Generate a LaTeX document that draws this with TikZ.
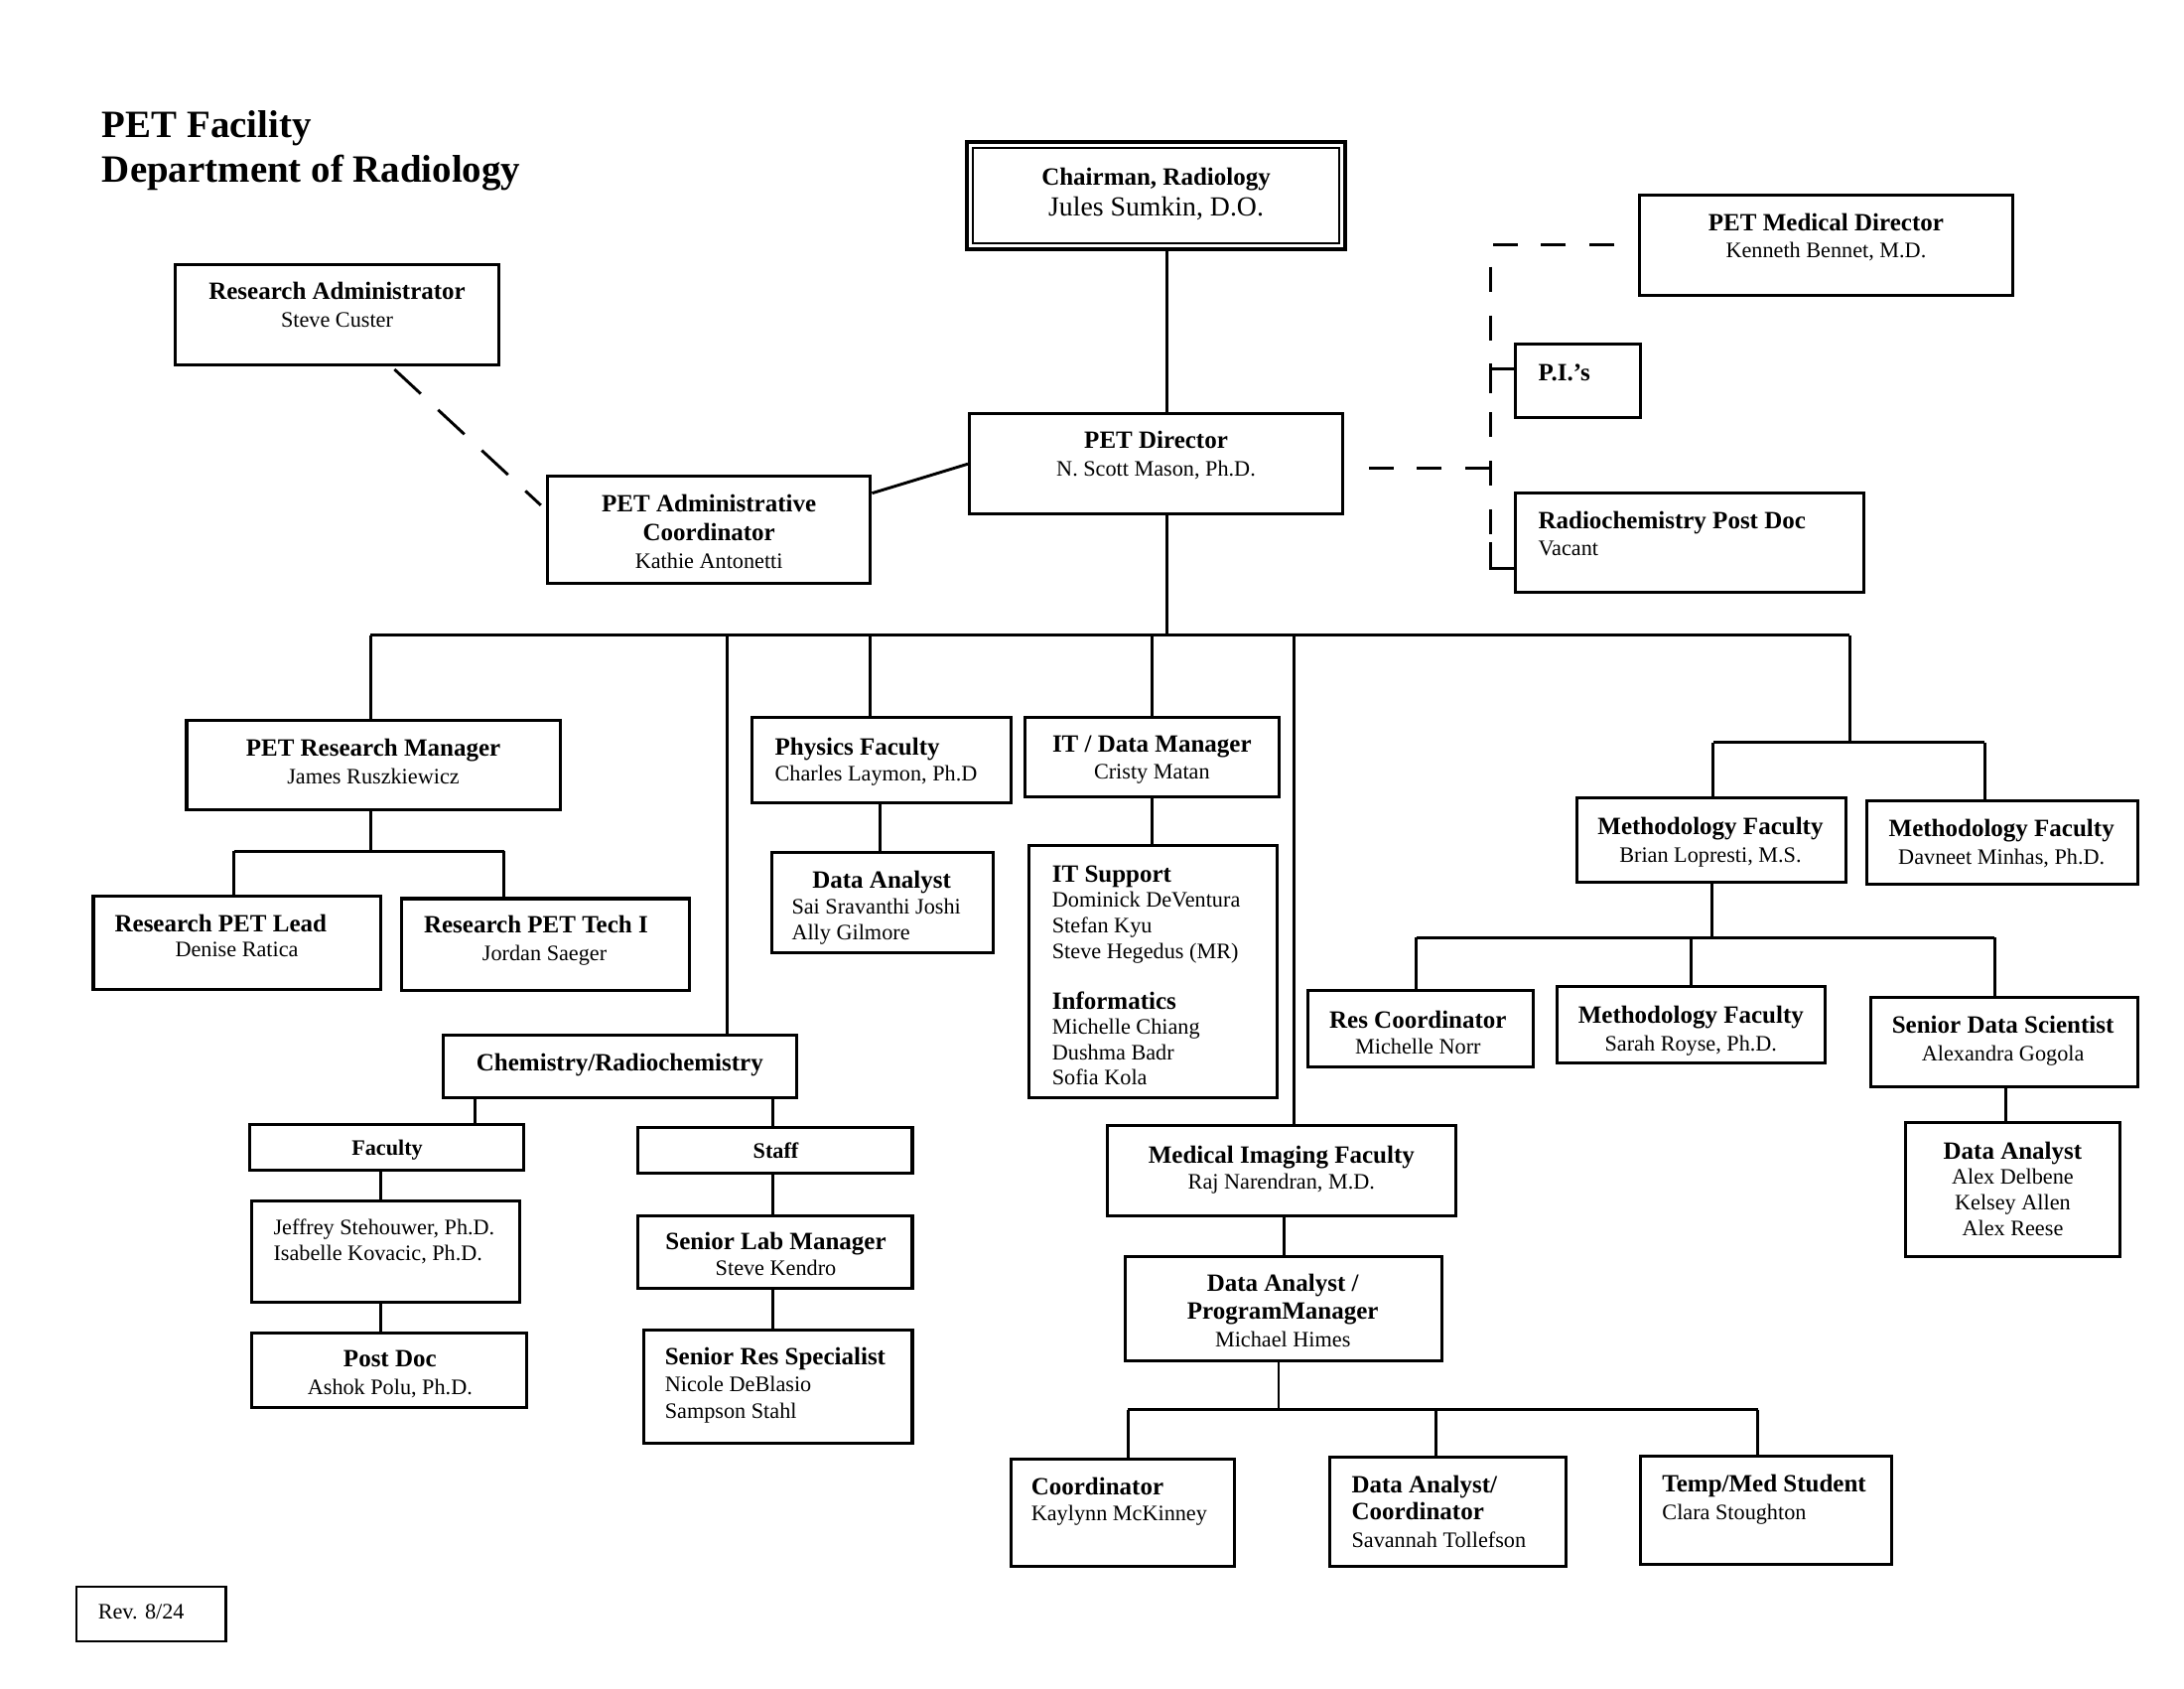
\documentclass[tikz,border=0pt]{standalone}
\usepackage{fontspec}
\setmainfont{Liberation Serif}
\usetikzlibrary{fit}
\newcommand\hd[1]{{\fontsize{9}{9.8}\selectfont\bfseries #1}}
\begin{document}
\begin{tikzpicture}[x=0.50510pt, y=-0.50510pt,
  box/.style={draw, line width=1.1pt, inner sep=0pt},
  con/.style={line width=1.05pt},
  dsh/.style={line width=1.05pt, dash pattern=on 9pt off 8.6pt},
  dshl/.style={line width=1.05pt, dash pattern=on 13pt off 8.6pt},
  txt/.style={inner sep=0pt, font=\fontsize{8}{#1}\selectfont},
  txt/.default=9.8]
\useasboundingbox[fill=white] (0,0) rectangle (1568,1212);

% title
\node[anchor=north west, inner sep=0pt, align=left, font=\fontsize{14}{16.2}\selectfont\bfseries] (title) at (73,79) {PET Facility\\Department of Radiology};

% ---------- boxes ----------
\node[draw, line width=1.5pt, inner sep=0pt, fit={(694,102) (966,179)}] (chair) {};
\node[draw, line width=0.7pt, inner sep=0pt, fit={(698.5,106.5) (961.5,174.5)}] (chairin) {};
\node[box, fit={(1177,140) (1445,212)}] (pmd) {};
\node[box, fit={(126,190) (358,262)}] (ra) {};
\node[box, fit={(1088,247) (1178,300)}] (pis) {};
\node[box, fit={(696,297) (964,369)}] (petdir) {};
\node[box, fit={(393,342) (625,419)}] (pac) {};
\node[box, fit={(1088,354) (1338,425)}] (rpd) {};

\node[box, fit={(134,517) (402,581)}] (prm) {};
\node[box, fit={(540,515) (726,576)}] (phys) {};
\node[box, fit={(736,515) (918,572)}] (itdm) {};
\node[box, fit={(1132,573) (1325,633)}] (mfb) {};
\node[box, fit={(1340,575) (1535,635)}] (mfd) {};

\node[box, fit={(67,643) (273,710)}] (rpl) {};
\node[box, fit={(288,645) (495,711)}] (rpt) {};
\node[box, fit={(554,612) (713,684)}] (dap) {};
\node[box, fit={(739,607) (917,788)}] (its) {};
\node[box, fit={(939,711) (1101,766)}] (rc) {};
\node[box, fit={(1118,708) (1310,763)}] (mfs) {};
\node[box, fit={(1343,716) (1535,780)}] (sds) {};
\node[box, fit={(1368,806) (1522,902)}] (dar) {};

\node[box, fit={(318,743) (572,788)}] (chem) {};
\node[box, fit={(179,807) (376,840)}] (fac) {};
\node[box, fit={(458,809) (655,842)}] (staff) {};
\node[box, fit={(181,862) (373,935)}] (names) {};
\node[box, fit={(181,957) (378,1010)}] (pd) {};
\node[box, fit={(458,873) (655,925)}] (slm) {};
\node[box, fit={(462,955) (655,1036)}] (srs) {};

\node[box, fit={(795,808) (1045,873)}] (mif) {};
\node[box, fit={(808,902) (1035,977)}] (dapm) {};
\node[box, fit={(726,1047) (886,1124)}] (coord) {};
\node[box, fit={(955,1046) (1124,1124)}] (dac) {};
\node[box, fit={(1178,1045) (1358,1123)}] (tms) {};

\node[box, line width=0.9pt, fit={(55,1139) (162,1178)}] (rev) {};

% ---------- texts ----------
\node[txt=11.1, anchor=north, align=center] (chair-t) at (830,120) {\hd{Chairman, Radiology}\\{\fontsize{10}{11.1}\selectfont Jules Sumkin, D.O.}};
\node[txt=9.6, anchor=north, align=center] (pmd-t) at (1311,153) {\hd{PET Medical Director}\\Kenneth Bennet, M.D.};
\node[txt=10.1, anchor=north, align=center] (ra-t) at (242,202) {\hd{Research Administrator}\\Steve Custer};
\node[txt, anchor=north west, align=left] (pis-t) at (1104,261) {\hd{P.I.’s}};
\node[txt=10.1, anchor=north, align=center] (petdir-t) at (830,309) {\hd{PET Director}\\N. Scott Mason, Ph.D.};
\node[txt=10.1, anchor=north, align=center] (pac-t) at (509,355) {\hd{PET Administrative}\\\hd{Coordinator}\\Kathie Antonetti};
\node[txt=9.6, anchor=north west, align=left] (rpd-t) at (1104,367) {\hd{Radiochemistry Post Doc}\\Vacant};

\node[txt=10.1, anchor=north, align=center] (prm-t) at (268,530) {\hd{PET Research Manager}\\James Ruszkiewicz};
\node[txt=9.6, anchor=north west, align=left] (phys-t) at (556,529) {\hd{Physics Faculty}\\Charles Laymon, Ph.D};
\node[txt=9.6, anchor=north, align=center] (itdm-t) at (827,528) {\hd{IT / Data Manager}\\Cristy Matan};
\node[txt=10.1, anchor=north, align=center] (mfb-t) at (1228,586) {\hd{Methodology Faculty}\\Brian Lopresti, M.S.};
\node[txt=10.1, anchor=north, align=center] (mfd-t) at (1437,588) {\hd{Methodology Faculty}\\Davneet Minhas, Ph.D.};

\node[txt, anchor=north west] (rpl-t) at (82,656) {\hd{Research PET Lead}};
\node[txt, anchor=north] (rpl-n) at (170,676) {Denise Ratica};
\node[txt, anchor=north west] (rpt-t) at (304,657) {\hd{Research PET Tech I}};
\node[txt, anchor=north] (rpt-n) at (391,678) {Jordan Saeger};
\node[txt, anchor=north] (dap-t) at (633,625) {\hd{Data Analyst}};
\node[txt=9.2, anchor=north west, align=left] (dap-n) at (568,645) {Sai Sravanthi Joshi\\Ally Gilmore};
\node[txt=9.2, anchor=north west, align=left] (its-t) at (755,621) {\hd{IT Support}\\Dominick DeVentura\\Stefan Kyu\\Steve Hegedus (MR)\\[9.2pt]\hd{Informatics}\\Michelle Chiang\\Dushma Badr\\Sofia Kola};
\node[txt=9.6, anchor=north, align=center] (rc-t) at (1018,725) {\hd{Res Coordinator}\\Michelle Norr};
\node[txt=10.1, anchor=north, align=center] (mfs-t) at (1214,722) {\hd{Methodology Faculty}\\Sarah Royse, Ph.D.};
\node[txt=10.1, anchor=north, align=center] (sds-t) at (1438,729) {\hd{Senior Data Scientist}\\Alexandra Gogola};
\node[txt=9.25, anchor=north, align=center] (dar-t) at (1445,819) {\hd{Data Analyst}\\Alex Delbene\\Kelsey Allen\\Alex Reese};

\node[txt, anchor=north] (chem-t) at (445,756) {\hd{Chemistry/Radiochemistry}};
\node[txt, anchor=north] (fac-t) at (278,818) {{\fontsize{8}{9.8}\selectfont\bfseries Faculty}};
\node[txt, anchor=north] (staff-t) at (557,820) {{\fontsize{8}{9.8}\selectfont\bfseries Staff}};
\node[txt=9.2, anchor=north west, align=left] (names-t) at (196,875) {Jeffrey Stehouwer, Ph.D.\\Isabelle Kovacic, Ph.D.};
\node[txt=10.1, anchor=north, align=center] (pd-t) at (280,969) {\hd{Post Doc}\\Ashok Polu, Ph.D.};
\node[txt=9.6, anchor=north, align=center] (slm-t) at (557,884) {\hd{Senior Lab Manager}\\Steve Kendro};
\node[txt=9.6, anchor=north west, align=left] (srs-t) at (477,967) {\hd{Senior Res Specialist}\\Nicole DeBlasio\\Sampson Stahl};

\node[txt=9.6, anchor=north, align=center] (mif-t) at (920,822) {\hd{Medical Imaging Faculty}\\Raj Narendran, M.D.};
\node[txt=10.1, anchor=north, align=center] (dapm-t) at (921,914) {\hd{Data Analyst /}\\\hd{ProgramManager}\\Michael Himes};
\node[txt=9.6, anchor=north west, align=left] (coord-t) at (740,1060) {\hd{Coordinator}\\Kaylynn McKinney};
\node[txt=9.8, anchor=north west, align=left] (dac-t) at (970,1059) {\hd{Data Analyst/}\\\hd{Coordinator}\\Savannah Tollefson};
\node[txt=10.1, anchor=north west, align=left] (tms-t) at (1193,1058) {\hd{Temp/Med Student}\\Clara Stoughton};

\node[txt, anchor=north west] (rev-t) at (70,1151) {Rev. 8/24};

% ---------- connectors ----------
\coordinate (bD) at (838,456);
\coordinate (bL) at (266,456);
\coordinate (bR) at (1328,456);
\coordinate (b2) at (522,456);
\coordinate (b3) at (625,456);
\coordinate (b4) at (827,456);
\coordinate (b5) at (929,456);
\coordinate (mR) at (1328,533);
\coordinate (mL) at (1230,533);
\coordinate (mD) at (1425,533);

\draw[con] (chair.south -| bD) -- (petdir.north -| bD);
\draw[con] (petdir.south -| bD) -- (bD);
\draw[con] (bL) -- (bR);
\draw[con] (bL) -- (prm.north -| bL);
\draw[con] (b2) -- (chem.north -| b2);
\draw[con] (b3) -- (phys.north -| b3);
\draw[con] (b4) -- (itdm.north -| b4);
\draw[con] (b5) -- (mif.north -| b5);
\draw[con] (bR) -- (mR);
\draw[con] (mL) -- (mD);
\draw[con] (mL) -- (mfb.north -| mL);
\draw[con] (mD) -- (mfd.north -| mD);

% admin
\draw[dshl, shorten <=1.5pt, shorten >=2.5pt] (ra.south -| 281,0) -- (pac.west |- 0,366);
\draw[con] (pac.east |- 0,354) -- (petdir.west |- 0,333);

% dotted staff links
\coordinate (jt) at (1070,176);
\coordinate (jm) at (1070,336);
\coordinate (jb) at (1070,389);
\coordinate (jr) at (1070,408);
\coordinate (jp) at (1070,265);
\coordinate (jp2) at (1070,282);
\draw[dsh, shorten <=8.5pt] (pmd.west |- jt) -- (jt) -- (jb);
\draw[dsh, shorten >=8pt] (jm) -- (petdir.east |- jm);
\draw[con] (pis.west |- jp) -- (jp) -- (jp2);
\draw[con] (jb) -- (jr) -- (rpd.west |- jr);

% research manager
\coordinate (rA) at (266,611);
\coordinate (rL) at (168,611);
\coordinate (rR) at (362,611);
\draw[con] (prm.south -| rA) -- (rA);
\draw[con] (rL) -- (rR);
\draw[con] (rL) -- (rpl.north -| rL);
\draw[con] (rR) -- (rpt.north -| rR);

% physics, IT
\draw[con] (phys.south -| 632,0) -- (dap.north -| 632,0);
\draw[con] (itdm.south -| 827,0) -- (its.north -| 827,0);

% methodology
\coordinate (qA) at (1229,673);
\coordinate (qL) at (1017,673);
\coordinate (qM) at (1214,673);
\coordinate (qR) at (1432,673);
\draw[con] (mfb.south -| qA) -- (qA);
\draw[con] (qL) -- (qR);
\draw[con] (qL) -- (rc.north -| qL);
\draw[con] (qM) -- (mfs.north -| qM);
\draw[con] (qR) -- (sds.north -| qR);
\draw[con] (sds.south -| 1440,0) -- (dar.north -| 1440,0);

% chemistry
\draw[con] (chem.south -| 341,0) -- (fac.north -| 341,0);
\draw[con] (chem.south -| 555,0) -- (staff.north -| 555,0);
\draw[con] (fac.south -| 273,0) -- (names.north -| 273,0);
\draw[con] (names.south -| 273,0) -- (pd.north -| 273,0);
\draw[con] (staff.south -| 555,0) -- (slm.north -| 555,0);
\draw[con] (slm.south -| 555,0) -- (srs.north -| 555,0);

% medical imaging
\coordinate (dA) at (918,1012);
\coordinate (dL) at (810,1012);
\coordinate (dM) at (1031,1012);
\coordinate (dR) at (1262,1012);
\draw[con] (mif.south -| 922,0) -- (dapm.north -| 922,0);
\draw[con] (dapm.south -| dA) -- (dA);
\draw[con] (dL) -- (dR);
\draw[con] (dL) -- (coord.north -| dL);
\draw[con] (dM) -- (dac.north -| dM);
\draw[con] (dR) -- (tms.north -| dR);
\end{tikzpicture}
\end{document}
